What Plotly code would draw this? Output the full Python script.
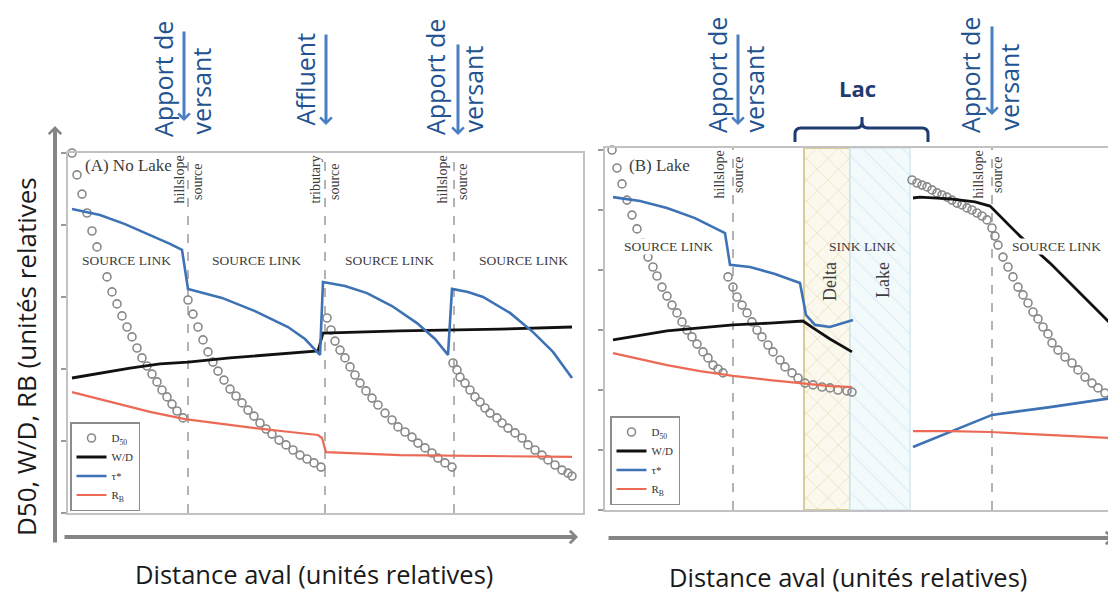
import plotly.graph_objects as go

# page body has an 8px margin: layout positions below are given in screen pixels
OFF = 8
W, H = 1116 - OFF, 594 - OFF
def PX(px): return (px - OFF) / W
def PY(py): return 1 - (py - OFF) / H

# ---------------- Panel A (No Lake) ----------------
a_d50_x1 = [0.8,1.8,2.8,3.8,4.8,5.8,6.8,7.8,8.8,9.8,10.8,11.8,12.8,13.8,14.8,15.8,16.8,17.8,18.8,19.8,20.8,21.8,23.0]
a_d50_y1 = [120,112.7,106.3,100,94,88.7,83.7,78.7,73.7,69.7,65.7,62,58.7,55,51.7,49,46.3,43.7,41,38.7,36.3,34,31.7]
a_d50_x2 = [24,25,26,27,28,29,30,31.2,32.4,33.6,34.8,36,37.2,38.4,39.6,40.8,42.2,43.6,45,46.4,47.8,49.2,50.6]
a_d50_y2 = [71,66.3,62,57.7,53.7,50.3,47.3,44.3,41.3,39,36.7,34.3,32.3,30,28,26.3,24.3,22.7,21,19.3,18,16.7,15.3]
a_d50_x3 = [51.8,52.6,53.4,54.4,55.4,56.4,57.4,58.4,59.6,60.8,62,63.4,64.8,66,67.4,68.8,70,71.4,72.8,74,75.4,76.8]
a_d50_y3 = [65,61,57.3,54.3,51.7,48.7,46,43.3,40.7,38.3,36,33.3,31,28.7,27,25.3,23.3,21.7,20,18.3,16.7,15.3]
a_d50_x4 = [77,77.8,78.4,79.4,80.4,81.4,82.4,83.4,84.4,85.8,86.8,88,89.4,90.8,92,93.4,94.8,96,97.4,98.8,100,100.8]
a_d50_y4 = [50,47.7,45.3,43.3,41,38.7,37,35,33.3,31.7,30,28.3,26.7,25,22.7,21,19.3,17.7,16,14.3,13.3,12.3]

a_tau_x = [0.8,6.4,11.4,16.4,20.4,22.8,24,30.8,37.4,44,47.4,50.4,51,55.4,59.8,64.8,69.8,73.4,76,76.8,80,83,88.4,93,97,100.8]
a_tau_y = [101.3,99.3,96.3,92.7,89.7,87.7,74.7,71.7,67.3,62,58,52.7,77,75.7,73.3,69,63.3,58,52.7,74.7,73.7,72,66.7,60.3,53.7,45]

a_wd_x = [0.8,6.4,12.4,18.4,24,32.4,40.4,46.4,50,51,66.4,86.4,100.8]
a_wd_y = [45,46.7,48.3,49.7,50.3,51.7,52.7,53.3,54,60,60.7,61.3,62]

a_rb_x = [0.8,6.4,10.8,16.4,23.4,30.4,37.4,44.4,50,50.8,51.6,66.4,86.4,100.8]
a_rb_y = [40.3,38,36,33.7,31.3,29.7,28.3,27,26,25,20.3,19.3,19,18.7]

a_sources = [24, 51.4, 77.2]
a_source_words = [("hillslope", "source"), ("tributary", "source"), ("hillslope", "source")]
a_link_x = [11.6, 37.6, 64.3, 91.1]

# ---------------- Panel B (Lake) ----------------
b_d50_x1 = [1.4,2.4,3.4,4.4,5.4,6.4,7.6,8.6,9.6,10.4,11.4,12.4,13.4,14.4,15.4,16.4,17.4,18.4,19.6,20.6,21.6,22.6,23.6]
b_d50_y1 = [120,114,108.7,103.3,98.3,93.7,89,84.3,81,78,74.3,71.3,68.3,65.7,62.7,60,57.7,55.3,52.7,50.7,48.3,47,45.7]
b_d50_x2 = [24.6,25.6,26.4,27.4,28.4,29.4,30.4,31.4,32.6,33.6,35,36,37.4,38.6,40,41.6,43.4,45,46.6,48.4,49.4]
b_d50_y2 = [77.7,74.3,71,68.3,65.7,62.7,60,57.7,55,52.7,50,47.7,45.7,44,42.3,41.7,41,40.7,40,39.7,39.3]
b_d50_x3 = [61.4,62.4,63.4,64.4,65.4,66.4,67.4,68.4,69.4,70.4,71.4,72.4,73.4,74.4,75.4,76.4,77.4,78,78.6,79.6,
            80.6,81.6,82.6,83.6,84.6,85.6,86.6,87.6,88.6,89.4,90.6,92,93.4,94.6,96,97.4,98.6,100,101.4]
b_d50_y3 = [110,109,108.3,107.7,106.7,105.7,105,104.3,103.3,102.3,101.7,100.7,100,99,98,96.7,94,91.3,88.3,84.3,
            81,77.7,74.3,71.7,69,66,63.7,61,58.7,55.7,53.3,51,49,46.7,44.3,42.3,40.7,39,37.3]

b_tau_x = [1.6,7,12.4,18,24,25,29,34,39,40.2,42,45,49.6, None, 61.6,69,77.4,89,101.4]
b_tau_y = [104.3,103,100.7,97.3,92.3,81.7,81,78.7,75.7,65,61.7,61,63.3, None, 21,26,31.7,34.3,37.3]

b_wd_x = [1.6,7,12.4,19,25.6,33,39.6,41.6,45,49.4, None, 61.6,63,69,74,77,83,89,95,101.4]
b_wd_y = [56.7,58.3,59.7,60.7,61.7,62.3,63,60.7,57,52.7, None, 104,104.3,103.7,102.7,101.3,91.3,82.3,72.3,61.7]

b_rb_x = [1.6,7,12.4,19,25.6,33,39,45,49.4, None, 61.6,69,77,89,101.4]
b_rb_y = [52.3,50.3,48.3,46.3,44.7,43.3,42.3,41.3,41, None, 26.3,26.3,26,25,24]

b_sources = [25.6, 77.4]
b_delta = [39.8, 49.0]
b_lake = [49.0, 61.0]
b_link_x = [12.6, 51.4, 90.3]
b_link_txt = ["SOURCE LINK", "SINK LINK", "SOURCE LINK"]

A_YMAX = 120
B_YMAX = 120.67

legend_names = ["D<sub>50</sub>", "W/D", "τ*", "R<sub>B</sub>"]

SERIF = "Liberation Serif"
SANS = "Open Sans"
C_D50 = "#8a8a8a"
C_WD = "#111111"
C_TAU = "#3d72b4"
C_RB = "#ec6a55"
FRAME = "#c2c2c2"

fig = go.Figure()

# hatched delta / lake zones (panel B)
fig.add_trace(go.Scatter(
    x=[b_delta[0], b_delta[1], b_delta[1], b_delta[0], b_delta[0]],
    y=[0, 0, B_YMAX, B_YMAX, 0], xaxis="x2", yaxis="y2", mode="lines",
    fill="toself", line=dict(color="#d9cc98", width=2),
    fillpattern=dict(shape="x", fgcolor="#d3c590", bgcolor="#fbf8ee", size=15, solidity=0.1),
    showlegend=False, hoverinfo="skip"))
fig.add_trace(go.Scatter(
    x=[b_lake[0], b_lake[1], b_lake[1], b_lake[0], b_lake[0]],
    y=[0, 0, B_YMAX, B_YMAX, 0], xaxis="x2", yaxis="y2", mode="lines",
    fill="toself", line=dict(color="#d2e8f0", width=1.5),
    fillpattern=dict(shape="\\", fgcolor="#c8e3ec", bgcolor="#f3fafc", size=14, solidity=0.1),
    showlegend=False, hoverinfo="skip"))

def concat(xs, ys):
    ox, oy = [], []
    for sx, sy in zip(xs, ys):
        ox += sx
        oy += sy
    return ox, oy

a_dx, a_dy = concat([a_d50_x1, a_d50_x2, a_d50_x3, a_d50_x4], [a_d50_y1, a_d50_y2, a_d50_y3, a_d50_y4])
b_dx, b_dy = concat([b_d50_x1, b_d50_x2, b_d50_x3], [b_d50_y1, b_d50_y2, b_d50_y3])

for (dx, dy, wx, wy, tx, ty, rx, ry, xa, ya, lg) in [
        (a_dx, a_dy, a_wd_x, a_wd_y, a_tau_x, a_tau_y, a_rb_x, a_rb_y, "x", "y", "legend"),
        (b_dx, b_dy, b_wd_x, b_wd_y, b_tau_x, b_tau_y, b_rb_x, b_rb_y, "x2", "y2", "legend2")]:
    fig.add_trace(go.Scatter(x=dx, y=dy, xaxis=xa, yaxis=ya, mode="markers", name=legend_names[0],
                             marker=dict(symbol="circle-open", size=8, color=C_D50, line=dict(width=1.6, color=C_D50)),
                             cliponaxis=False, legend=lg))
    fig.add_trace(go.Scatter(x=wx, y=wy, xaxis=xa, yaxis=ya, mode="lines", name=legend_names[1],
                             line=dict(color=C_WD, width=2.8), legend=lg))
    fig.add_trace(go.Scatter(x=tx, y=ty, xaxis=xa, yaxis=ya, mode="lines", name=legend_names[2],
                             line=dict(color=C_TAU, width=2.6), legend=lg))
    fig.add_trace(go.Scatter(x=rx, y=ry, xaxis=xa, yaxis=ya, mode="lines", name=legend_names[3],
                             line=dict(color=C_RB, width=2.2), legend=lg))

shapes = []
annos = []

# dashed source lines
for xv in a_sources:
    shapes.append(dict(type="line", xref="x", yref="y domain", x0=xv, x1=xv, y0=0, y1=1,
                       line=dict(color="#9a9a9a", width=1.5, dash="dash"), layer="below"))
for xv in b_sources:
    shapes.append(dict(type="line", xref="x2", yref="y2 domain", x0=xv, x1=xv, y0=0, y1=1,
                       line=dict(color="#9a9a9a", width=1.5, dash="dash"), layer="below"))

def serif(text, x, y, xref, yref, size=13.5, **kw):
    d = dict(text=text, x=x, y=y, xref=xref, yref=yref, showarrow=False,
             xanchor="center", yanchor="middle",
             font=dict(family=SERIF, size=size, color="#3c3c3c"))
    d.update(kw)
    annos.append(d)

# Panel A labels
serif("(A) No Lake", 3, 115.7, "x", "y", size=17, xanchor="left")
for xv in a_link_x:
    serif("SOURCE LINK", xv, 84.2, "x", "y", size=13.5, bgcolor="white", borderpad=0)
a_shift = [(0, 0), (-1, 0), (-3, -1)]
for xv, (w1, w2), (s1, s2) in zip(a_sources, a_source_words, a_shift):
    serif(w1, xv, A_YMAX, "x", "y", size=14, textangle=-90, xanchor="right", yanchor="top", xshift=s1, yshift=-1)
    serif(w2, xv, A_YMAX, "x", "y", size=14, textangle=-90, xanchor="left", yanchor="top", xshift=s2, yshift=-8)

# Panel B labels
serif("(B) Lake", 4.4, 115, "x2", "y2", size=17, xanchor="left")
for xv, t in zip(b_link_x, b_link_txt):
    serif(t, xv, 88, "x2", "y2", size=13.5, bgcolor="white" if t == "SOURCE LINK" else None, borderpad=0)
serif("Delta", 45, 76, "x2", "y2", size=18, textangle=-90)
serif("Lake", 55.6, 76.7, "x2", "y2", size=18, textangle=-90)
for xv in b_sources:
    serif("hillslope", xv, B_YMAX, "x2", "y2", size=14, textangle=-90, xanchor="right", yanchor="top", xshift=-5, yshift=-1)
    serif("source", xv, B_YMAX, "x2", "y2", size=14, textangle=-90, xanchor="left", yanchor="top", xshift=-4, yshift=-6)

# Top blue annotations
TXT_BLUE = "#22528f"
ARR_BLUE = "#4a7fc1"
def vtext(text, cx, bottom, size=25):
    annos.append(dict(text=text, x=PX(cx), y=PY(bottom), xref="paper", yref="paper", showarrow=False,
                      textangle=-90, xanchor="center", yanchor="bottom",
                      font=dict(family=SANS, size=size, color=TXT_BLUE)))
def varrow(x, y0, y1):
    annos.append(dict(text="", x=PX(x), y=PY(y1), xref="paper", yref="paper", showarrow=True,
                      ax=0, ay=y0 - y1, arrowhead=4, arrowsize=0.75, arrowwidth=3,
                      arrowcolor=ARR_BLUE, standoff=0))

vtext("Apport de", 163, 139); vtext("versant", 200, 137); varrow(184, 30, 121)
vtext("Affluent", 305, 128); varrow(326, 33, 125)
vtext("Apport de", 435, 137); vtext("versant", 472, 135); varrow(458, 43, 135)
vtext("Apport de", 717, 135); vtext("versant", 753, 135); varrow(738, 33, 125)
vtext("Apport de", 970, 135); vtext("versant", 1008, 132); varrow(992, 25, 115)

annos.append(dict(text="<b>Lac</b>", x=PX(857), y=PY(88), xref="paper", yref="paper", showarrow=False,
                  xanchor="center", yanchor="middle",
                  font=dict(family=SANS, size=22, color="#1f3b70")))
brace = (f"M {PX(795)},{PY(142)} L {PX(795)},{PY(134)} Q {PX(795)},{PY(128)} {PX(801)},{PY(128)} "
         f"L {PX(856)},{PY(128)} Q {PX(862)},{PY(128)} {PX(862)},{PY(122)} L {PX(862)},{PY(117)} "
         f"M {PX(862)},{PY(122)} Q {PX(862)},{PY(128)} {PX(868)},{PY(128)} "
         f"L {PX(922)},{PY(128)} Q {PX(928)},{PY(128)} {PX(928)},{PY(134)} L {PX(928)},{PY(142)}")
shapes.append(dict(type="path", xref="paper", yref="paper", path=brace,
                   line=dict(color="#1f3b70", width=3)))

# Gray axis arrows
GRAY = "#858585"
def garrow(x, y, ax, ay):
    annos.append(dict(text="", x=PX(x), y=PY(y), xref="paper", yref="paper", showarrow=True,
                      ax=ax, ay=ay, arrowhead=4, arrowsize=0.6, arrowwidth=4, arrowcolor=GRAY, standoff=0))
garrow(55, 126, 0, 418)
garrow(578, 537, -515, 0)
garrow(1114, 538, -507, 0)

# Axis titles
annos.append(dict(text="D50, W/D, RB (unités relatives", x=PX(26), y=PY(357), xref="paper", yref="paper",
                  showarrow=False, textangle=-90, xanchor="center", yanchor="middle",
                  font=dict(family=SANS, size=26, color="#1a1a1a")))
annos.append(dict(text="Distance aval (unités relatives)", x=PX(314), y=PY(574), xref="paper", yref="paper",
                  showarrow=False, xanchor="center", yanchor="middle",
                  font=dict(family=SANS, size=25.5, color="#1a1a1a")))
annos.append(dict(text="Distance aval (unités relatives)", x=PX(848), y=PY(577), xref="paper", yref="paper",
                  showarrow=False, xanchor="center", yanchor="middle",
                  font=dict(family=SANS, size=25.5, color="#1a1a1a")))

axis_common = dict(showgrid=False, zeroline=False, showticklabels=False)
legend_common = dict(font=dict(family=SERIF, size=11, color="#333"), bordercolor="#8c8c8c", borderwidth=1.5,
                     bgcolor="white", xanchor="left", yanchor="top", itemwidth=30, tracegroupgap=0,
                     itemclick=False)

fig.update_layout(
    width=W, height=H, autosize=False,
    margin=dict(l=0, r=0, t=0, b=0),
    paper_bgcolor="white", plot_bgcolor="white",
    showlegend=True,
    xaxis=dict(domain=[PX(68), PX(583)], range=[0, 103], showline=True, mirror=True,
               linecolor=FRAME, linewidth=2, ticks="", **axis_common),
    yaxis=dict(domain=[PY(513), PY(153)], range=[0, A_YMAX], showline=True, mirror=True,
               linecolor=FRAME, linewidth=2, ticks="outside", ticklen=5, tickcolor="#9a9a9a",
               tickwidth=1.5, tickvals=[0, 24, 48, 72, 96, 120], **axis_common),
    xaxis2=dict(domain=[PX(605), 1.0], range=[0, 102.2], anchor="y2", showline=True, mirror=True,
                linecolor=FRAME, linewidth=2, ticks="", **axis_common),
    yaxis2=dict(domain=[PY(510), PY(148)], range=[0, B_YMAX], anchor="x2", showline=True, mirror=False,
                linecolor=FRAME, linewidth=2, ticks="outside", ticklen=5, tickcolor="#9a9a9a",
                tickwidth=1.5, tickvals=[0, 20, 40, 60, 80, 100, 120], **axis_common),
    legend=dict(x=PX(70), y=PY(422), **legend_common),
    legend2=dict(x=PX(610), y=PY(416), **legend_common),
    shapes=shapes, annotations=annos,
)

fig.write_html("out.html")
